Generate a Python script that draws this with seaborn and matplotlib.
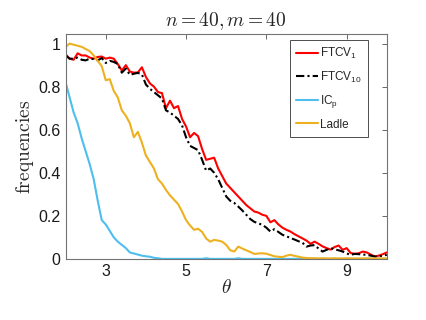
import numpy as np
import pandas as pd
import matplotlib
matplotlib.use("Agg")
import matplotlib.pyplot as plt
import seaborn as sns
from matplotlib.ticker import FuncFormatter

# theta grid, step 0.1 from 2 to 10
theta = np.round(np.arange(2.0, 10.01, 0.1), 1)

ftcv1 = [0.95, 0.93, 0.925, 0.955, 0.945, 0.945, 0.935, 0.93, 0.938, 0.94,
         0.93, 0.935, 0.93, 0.905, 0.875, 0.9, 0.87, 0.865, 0.866, 0.89,
         0.845, 0.815, 0.80, 0.775, 0.77, 0.70, 0.735, 0.70, 0.71, 0.65,
         0.615, 0.565, 0.585, 0.57, 0.51, 0.46, 0.465, 0.47, 0.42, 0.385,
         0.35, 0.33, 0.31, 0.29, 0.27, 0.25, 0.235, 0.22, 0.215, 0.205,
         0.2, 0.17, 0.18, 0.16, 0.145, 0.135, 0.127, 0.115, 0.105, 0.095,
         0.085, 0.07, 0.08, 0.07, 0.058, 0.05, 0.043, 0.055, 0.062, 0.042,
         0.05, 0.027, 0.024, 0.026, 0.034, 0.03, 0.02, 0.011, 0.015, 0.022,
         0.03]

ftcv10 = [0.945, 0.93, 0.93, 0.935, 0.925, 0.922, 0.93, 0.928, 0.922, 0.933,
          0.91, 0.92, 0.915, 0.905, 0.865, 0.884, 0.855, 0.86, 0.864, 0.857,
          0.81, 0.79, 0.775, 0.76, 0.745, 0.69, 0.68, 0.665, 0.65, 0.62,
          0.565, 0.525, 0.515, 0.505, 0.46, 0.41, 0.42, 0.40, 0.37, 0.33,
          0.29, 0.27, 0.26, 0.243, 0.225, 0.205, 0.185, 0.172, 0.165, 0.158,
          0.145, 0.127, 0.138, 0.125, 0.112, 0.105, 0.097, 0.09, 0.082, 0.075,
          0.057, 0.062, 0.064, 0.048, 0.034, 0.042, 0.05, 0.044, 0.04, 0.034,
          0.025, 0.019, 0.023, 0.022, 0.02, 0.019, 0.015, 0.011, 0.012, 0.014,
          0.019]

icp = [0.82, 0.75, 0.68, 0.63, 0.56, 0.50, 0.44, 0.37, 0.27, 0.18,
       0.16, 0.13, 0.10, 0.08, 0.065, 0.05, 0.03, 0.025, 0.02, 0.015,
       0.012, 0.01, 0.005, 0.003, 0.0, 0.0, 0.0, 0.0, 0.0, 0.0,
       0.0, 0.0, 0.0, 0.0, 0.0, 0.003, 0.0, 0.0, 0.0, 0.0,
       0.0, 0.0, 0.0, 0.003, 0.0, 0.0, 0.0, 0.0, 0.0, 0.0,
       0.0, 0.0, 0.0, 0.0, 0.0, 0.0, 0.0, 0.0, 0.0, 0.0,
       0.0, 0.0, 0.0, 0.0, 0.0, 0.0, 0.0, 0.0, 0.0, 0.0,
       0.0, 0.0, 0.0, 0.0, 0.0, 0.0, 0.0, 0.0, 0.0, 0.0,
       0.0]

ladle = [0.985, 1.0, 0.995, 0.99, 0.985, 0.975, 0.965, 0.945, 0.92, 0.895,
         0.83, 0.835, 0.78, 0.75, 0.69, 0.665, 0.63, 0.565, 0.59, 0.54,
         0.48, 0.45, 0.42, 0.37, 0.35, 0.32, 0.295, 0.275, 0.255, 0.22,
         0.18, 0.155, 0.135, 0.14, 0.125, 0.095, 0.08, 0.088, 0.085, 0.08,
         0.065, 0.04, 0.034, 0.057, 0.048, 0.04, 0.032, 0.023, 0.025, 0.026,
         0.024, 0.018, 0.012, 0.01, 0.008, 0.015, 0.019, 0.014, 0.01, 0.006,
         0.004, 0.003, 0.003, 0.002, 0.003, 0.002, 0.002, 0.003, 0.002, 0.002,
         0.003, 0.002, 0.002, 0.002, 0.002, 0.003, 0.002, 0.002, 0.002, 0.002,
         0.002]

sns.set_style("white")
plt.rcParams['font.family'] = ['Liberation Sans', 'DejaVu Sans']
plt.rcParams['mathtext.fontset'] = 'custom'
plt.rcParams['mathtext.rm'] = 'Liberation Sans'
plt.rcParams['mathtext.it'] = 'Liberation Sans:italic'

fig = plt.figure(figsize=(4.26, 3.2), dpi=100)
ax = fig.add_axes([0.154, 0.191, 0.754, 0.703])

sns.lineplot(x=theta, y=ftcv1, ax=ax, color='#FF0000', lw=1.5, label=r'FTCV$_\mathrm{1}$')
sns.lineplot(x=theta, y=ftcv10, ax=ax, color='black', lw=1.5, label=r'FTCV$_\mathrm{10}$')
ax.lines[-1].set_dashes([4, 1.5, 1, 1.5])
sns.lineplot(x=theta, y=icp, ax=ax, color='#4DBEEE', lw=1.5, label=r'IC$_\mathrm{p}$')
sns.lineplot(x=theta, y=ladle, ax=ax, color='#EDB120', lw=1.5, label='Ladle')

ax.set_xlim(2, 10)
ax.set_ylim(0, 1.045)
ax.set_xticks([3, 5, 7, 9])
ax.set_yticks([0, 0.2, 0.4, 0.6, 0.8, 1])
ax.yaxis.set_major_formatter(FuncFormatter(lambda v, p: '%g' % v))
ax.tick_params(direction='in', top=True, right=True, length=3.5, width=0.6,
               color='0.3', labelsize=11.5, labelcolor='0.1')
for s in ax.spines.values():
    s.set_visible(True)
    s.set_color('0.45')
    s.set_linewidth(0.8)

ax.set_title(r'$n = 40, m = 40$', fontsize=14, math_fontfamily='cm', pad=6)
ax.set_xlabel(r'$\theta$', fontsize=14, math_fontfamily='cm', labelpad=0)
ax.set_ylabel(r'$\mathrm{frequencies}$', fontsize=14, math_fontfamily='cm', labelpad=2)

leg = ax.legend(loc='upper right', bbox_to_anchor=(368 / 426, 1 - 40 / 320),
                bbox_transform=fig.transFigure, borderaxespad=0,
                fontsize=8.5, frameon=True, fancybox=False,
                handlelength=1.9, handletextpad=0.2, borderpad=0.5,
                labelspacing=0.72)
leg.get_frame().set_edgecolor('0.3')
leg.get_frame().set_linewidth(0.7)
leg.get_frame().set_alpha(1)

fig.savefig('out.png', dpi=100)
